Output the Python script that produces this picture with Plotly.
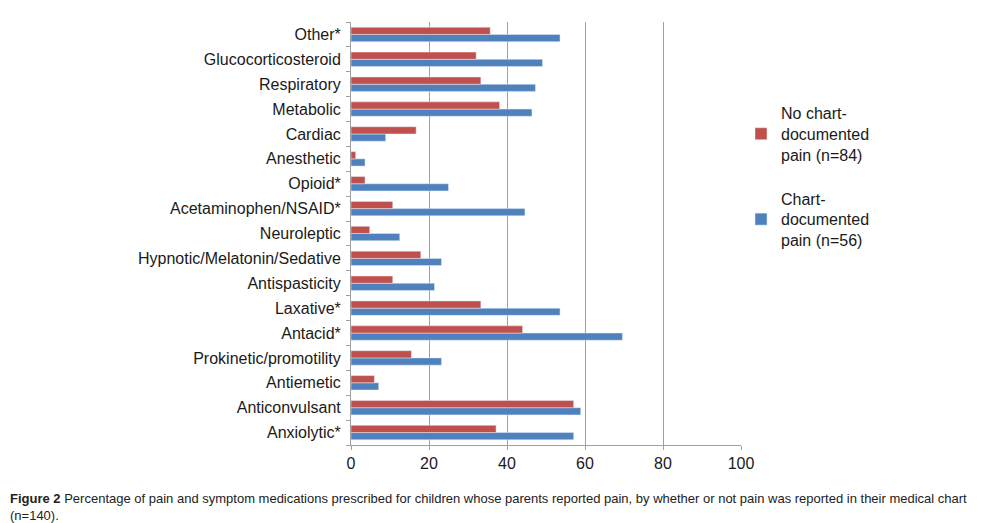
import plotly.graph_objects as go

# categories listed bottom to top
categories = ["Anxiolytic*", "Anticonvulsant", "Antiemetic", "Prokinetic/promotility",
              "Antacid*", "Laxative*", "Antispasticity", "Hypnotic/Melatonin/Sedative",
              "Neuroleptic", "Acetaminophen/NSAID*", "Opioid*", "Anesthetic", "Cardiac",
              "Metabolic", "Respiratory", "Glucocorticosteroid", "Other*"]
no_chart_pain = [37.2, 57.1, 6.0, 15.5, 44.0, 33.3, 10.7, 17.9, 4.8, 10.7, 3.6, 1.2, 16.7,
                 38.1, 33.3, 32.1, 35.7]
chart_pain = [57.1, 58.9, 7.1, 23.2, 69.6, 53.6, 21.4, 23.2, 12.5, 44.6, 25.0, 3.6, 8.9,
              46.4, 47.3, 49.1, 53.6]
x_ticks = [0, 20, 40, 60, 80, 100]

fig = go.Figure()
fig.add_trace(go.Bar(y=categories, x=chart_pain, orientation="h",
                     name="Chart-<br>documented<br>pain (n=56)",
                     marker_color="#4F81BD", legendgroup="b", legendrank=2))
fig.add_trace(go.Bar(y=categories, x=no_chart_pain, orientation="h",
                     name="No chart-<br>documented<br>pain (n=84)",
                     marker_color="#C0504D", legendgroup="a", legendrank=1))

GRID = "#a0a0a0"
fig.update_layout(
    width=991, height=515,
    margin=dict(l=343, r=258, t=14, b=78),
    plot_bgcolor="white", paper_bgcolor="white",
    barmode="group", bargap=0.42, bargroupgap=0,
    font=dict(family="Liberation Sans, Arial, sans-serif", color="#1a1a1a"),
    legend=dict(x=1.0, y=0.825, xanchor="left", yanchor="top",
                traceorder="grouped", tracegroupgap=20,
                font=dict(size=16, color="#1a1a1a"), itemwidth=30),
    showlegend=True,
)
fig.update_xaxes(range=[0, 100], tickvals=x_ticks, showgrid=True, gridcolor=GRID,
                 gridwidth=1, zeroline=False, showline=True, linecolor=GRID, linewidth=1,
                 ticks="outside", ticklen=4, tickcolor=GRID,
                 tickfont=dict(size=16, color="#1a1a1a"))
fig.update_yaxes(type="category", showline=True, linecolor=GRID, linewidth=1,
                 ticks="outside", ticklen=4, tickcolor=GRID, tickson="boundaries",
                 ticklabelstandoff=6,
                 tickfont=dict(size=16, color="#1a1a1a"), showgrid=False)

fig.add_annotation(xref="paper", yref="paper", x=-343/390, y=-0.105, xanchor="left",
                   yanchor="top", align="left", showarrow=False,
                   text="<b>Figure 2</b> Percentage of pain and symptom medications prescribed for children whose parents reported pain, by whether or not pain was reported in their medical chart<br>(n=140).",
                   font=dict(size=13, color="#222", family="Liberation Sans, Arial"))

fig.write_html("out.html")
